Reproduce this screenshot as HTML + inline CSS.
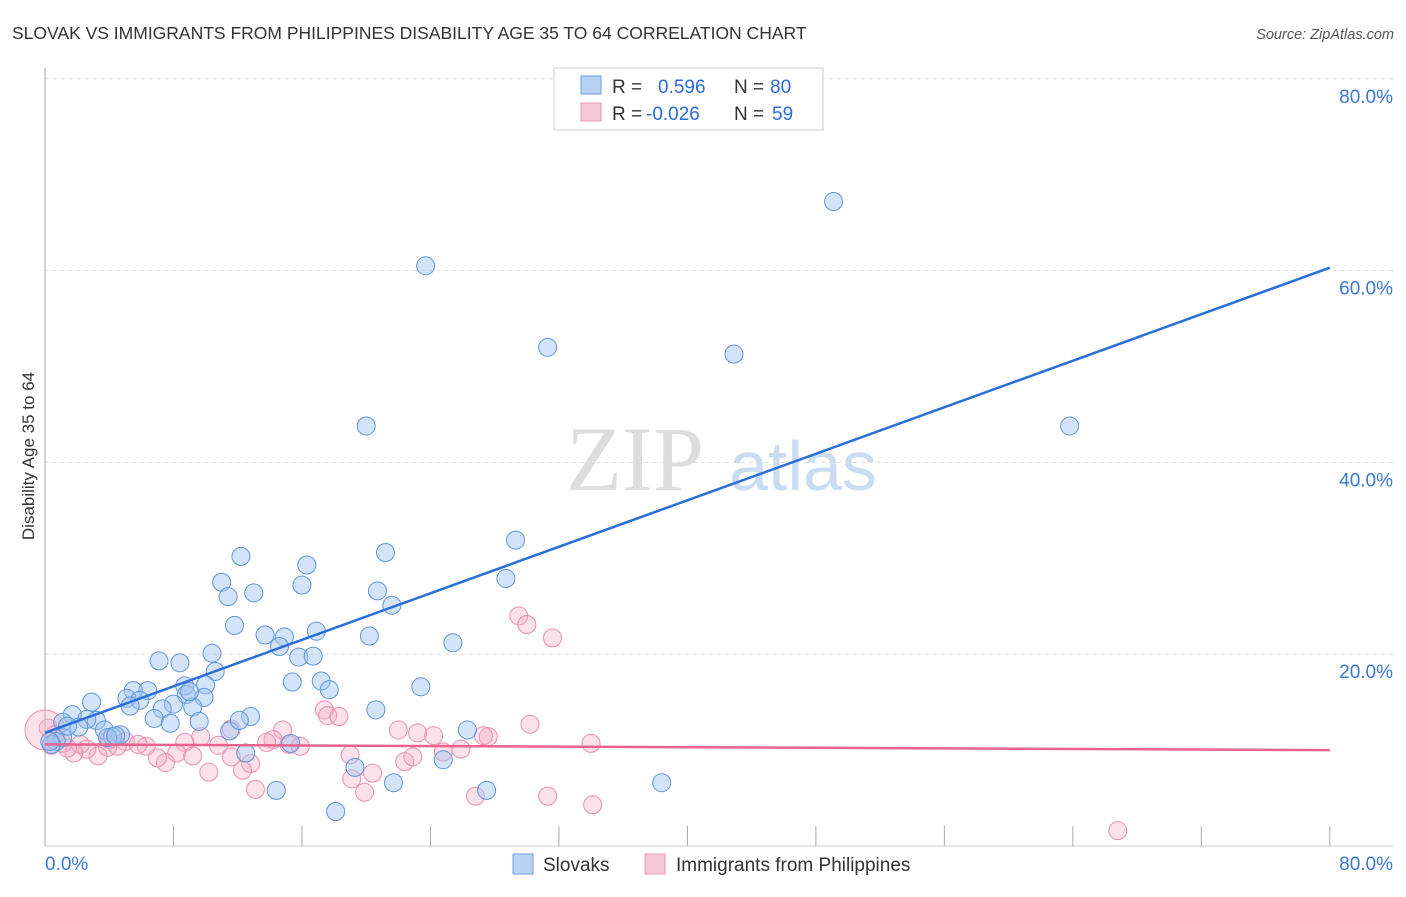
<!DOCTYPE html>
<html><head><meta charset="utf-8"><style>
body{margin:0;background:#fff;font-family:"Liberation Sans",sans-serif;}
</style></head><body>
<svg width="1406" height="892" xmlns="http://www.w3.org/2000/svg" font-family="Liberation Sans, sans-serif">
<text x="12" y="39" font-size="17.5" fill="#333">SLOVAK VS IMMIGRANTS FROM PHILIPPINES DISABILITY AGE 35 TO 64 CORRELATION CHART</text>
<text x="1394" y="39" font-size="14.5" fill="#555" font-style="italic" text-anchor="end">Source: ZipAtlas.com</text>
<g><text x="635" y="490" font-size="92" fill="#ddd" font-family="Liberation Serif, serif" text-anchor="middle">ZIP</text><text x="803" y="490" font-size="70" fill="#c9dcf2" text-anchor="middle">atlas</text></g>
<g id="grid"></g>
<g id="axes"></g>
<text transform="translate(34,456) rotate(-90)" font-size="17" fill="#333" text-anchor="middle">Disability Age 35 to 64</text>
<g id="pts"></g>
<g id="lines"></g>
<g>
<rect x="554" y="68" width="269" height="62" fill="#fff" stroke="#ccc"/>
<rect x="581" y="76" width="20" height="18" fill="#b8d2f4" stroke="#6b9ee0"/>
<rect x="581" y="103" width="20" height="18" fill="#f9c8d6" stroke="#ec97b2"/>
<text x="612" y="93" font-size="19" fill="#333">R =  <tspan fill="#2a6dd6" x="658">0.596</tspan><tspan x="734">N =</tspan><tspan fill="#2a6dd6" x="770">80</tspan></text>
<text x="612" y="120" font-size="19" fill="#333">R = <tspan fill="#2a6dd6" x="646">-0.026</tspan><tspan x="734">N =</tspan><tspan fill="#2a6dd6" x="772">59</tspan></text>
</g>
<g>
<rect x="513" y="854" width="20" height="20" fill="#b8d2f4" stroke="#6b9ee0"/>
<text x="543" y="871" font-size="19" fill="#333">Slovaks</text>
<rect x="645" y="854" width="20" height="20" fill="#f9c8d6" stroke="#ec97b2"/>
<text x="676" y="871" font-size="19" fill="#333">Immigrants from Philippines</text>
</g>
</svg>
<script>
const yTicks=[20,40,60,80];
const yTickLabels=["20.0%","40.0%","60.0%","80.0%"];
const xTicks=[0,8,16,24,32,40,48,56,64,72,80];
const blueX=[49.1,23.7,31.3,42.9,63.8,20.0,29.3,21.2,12.2,16.3,28.7,11.0,16.0,11.4,13.0,20.7,21.6,11.8,13.7,14.9,14.6,16.9,20.2,25.4,10.4,15.8,16.7,7.1,8.4,10.6,15.4,17.2,8.7,10.0,17.7,23.4,6.4,5.5,2.9,5.1,5.9,8.8,9.9,8.0,5.3,7.3,20.6,9.2,6.8,12.8,7.8,9.6,3.2,1.7,2.6,1.1,2.1,3.7,11.5,26.3,4.7,4.2,1.1,0.7,0.4,15.3,12.5,19.3,24.8,27.5,14.4,21.7,38.4,18.1,3.9,1.4,0.3,4.4,9.0,12.1];
const blueY=[67.2,60.5,52.0,51.3,43.8,43.8,31.9,30.6,30.2,29.3,27.9,27.5,27.2,26.0,26.4,26.6,25.1,23.0,22.0,21.8,20.8,22.4,21.9,21.2,20.1,19.7,19.8,19.3,19.1,18.2,17.1,17.2,16.7,16.8,16.3,16.6,16.2,16.2,15.0,15.4,15.2,15.8,15.5,14.8,14.6,14.3,14.2,14.5,13.3,13.5,12.8,13.0,13.1,13.7,13.2,12.9,12.4,12.1,12.0,12.1,11.6,11.4,11.3,10.9,10.6,10.7,9.7,8.2,9.0,5.8,5.8,6.6,6.6,3.6,11.3,12.5,10.9,11.5,16.1,13.1];
const pinkX=[29.5,30.0,31.6,30.2,22.0,23.2,24.2,24.8,25.9,27.6,27.3,34.0,17.4,17.6,18.3,14.8,14.2,15.2,15.9,13.8,11.6,9.7,8.7,8.2,9.2,7.5,7.0,6.3,5.0,4.5,3.9,3.3,2.6,2.2,1.8,1.1,0.6,0.2,0.4,10.8,11.6,12.8,12.3,10.2,19.0,19.1,19.9,20.4,22.4,22.9,13.1,26.8,31.3,34.1,66.8,5.8,4.0,1.4,0.0];
const pinkY=[24.0,23.1,21.7,12.7,12.1,11.8,11.5,9.8,10.1,11.4,11.5,10.7,14.2,13.6,13.5,12.1,11.1,10.6,10.4,10.8,12.2,11.4,10.8,9.7,9.4,8.7,9.2,10.4,10.9,10.4,10.3,9.4,10.1,10.6,9.7,10.7,11.6,12.3,10.5,10.5,9.3,8.6,7.9,7.7,9.5,7.0,5.6,7.6,8.8,9.3,5.9,5.2,5.2,4.3,1.6,10.6,11.1,10.2,12.1];
const blueLine=[11.8,60.3];
const pinkLine=[10.6,10.0];
const NS="http://www.w3.org/2000/svg";
const sx=v=>45+v*16.06, sy=v=>846-v*9.59;
function mk(tag,attrs,parent){const e=document.createElementNS(NS,tag);for(const k in attrs)e.setAttribute(k,attrs[k]);parent.appendChild(e);return e;}
const grid=document.getElementById('grid'),axes=document.getElementById('axes'),pts=document.getElementById('pts'),lines=document.getElementById('lines');
yTicks.forEach((t,i)=>{
 const l=mk('line',{x1:45,x2:1393,y1:sy(t),y2:sy(t),stroke:'#ddd','stroke-dasharray':'4,4'},grid);
 
 
 const tx=mk('text',{x:1393,y:sy(t)+24,'font-size':19,fill:'#3a78d6','text-anchor':'end'},axes);
 tx.textContent=yTickLabels[i];
 
 
});
const ya=mk('line',{x1:45,x2:45,y1:68,y2:846,stroke:'#aaa'},axes);


const xa=mk('line',{x1:45,x2:1393,y1:846,y2:846,stroke:'#ccc'},axes);


xTicks.forEach(t=>{
 const l=mk('line',{x1:sx(t),x2:sx(t),y1:826,y2:846,stroke:'#aaa'},axes);
 
 
});
const x0=mk('text',{x:45,y:870,'font-size':19,fill:'#3a78d6'},axes);x0.textContent='0.0%';


const x1=mk('text',{x:1393,y:870,'font-size':19,fill:'#3a78d6','text-anchor':'end'},axes);x1.textContent='80.0%';


pinkX.forEach((x,i)=>{
 const c=mk('circle',{cx:sx(x),cy:sy(pinkY[i]),r:i===pinkX.length-1?20:9,fill:'rgba(244,168,194,0.35)',stroke:'#ec8fae','stroke-width':1},pts);
 
 
});
blueX.forEach((x,i)=>{
 const c=mk('circle',{cx:sx(x),cy:sy(blueY[i]),r:9,fill:'rgba(160,196,240,0.45)',stroke:'#5f95dc','stroke-width':1},pts);
 
 
});
const bl=mk('line',{x1:sx(0),y1:sy(blueLine[0]),x2:sx(80),y2:sy(blueLine[1]),stroke:'#2a6fd8','stroke-width':2.5},lines);


const pl=mk('line',{x1:sx(0),y1:sy(pinkLine[0]),x2:sx(80),y2:sy(pinkLine[1]),stroke:'#e8648e','stroke-width':2.5},lines);


</script>
</body></html>
